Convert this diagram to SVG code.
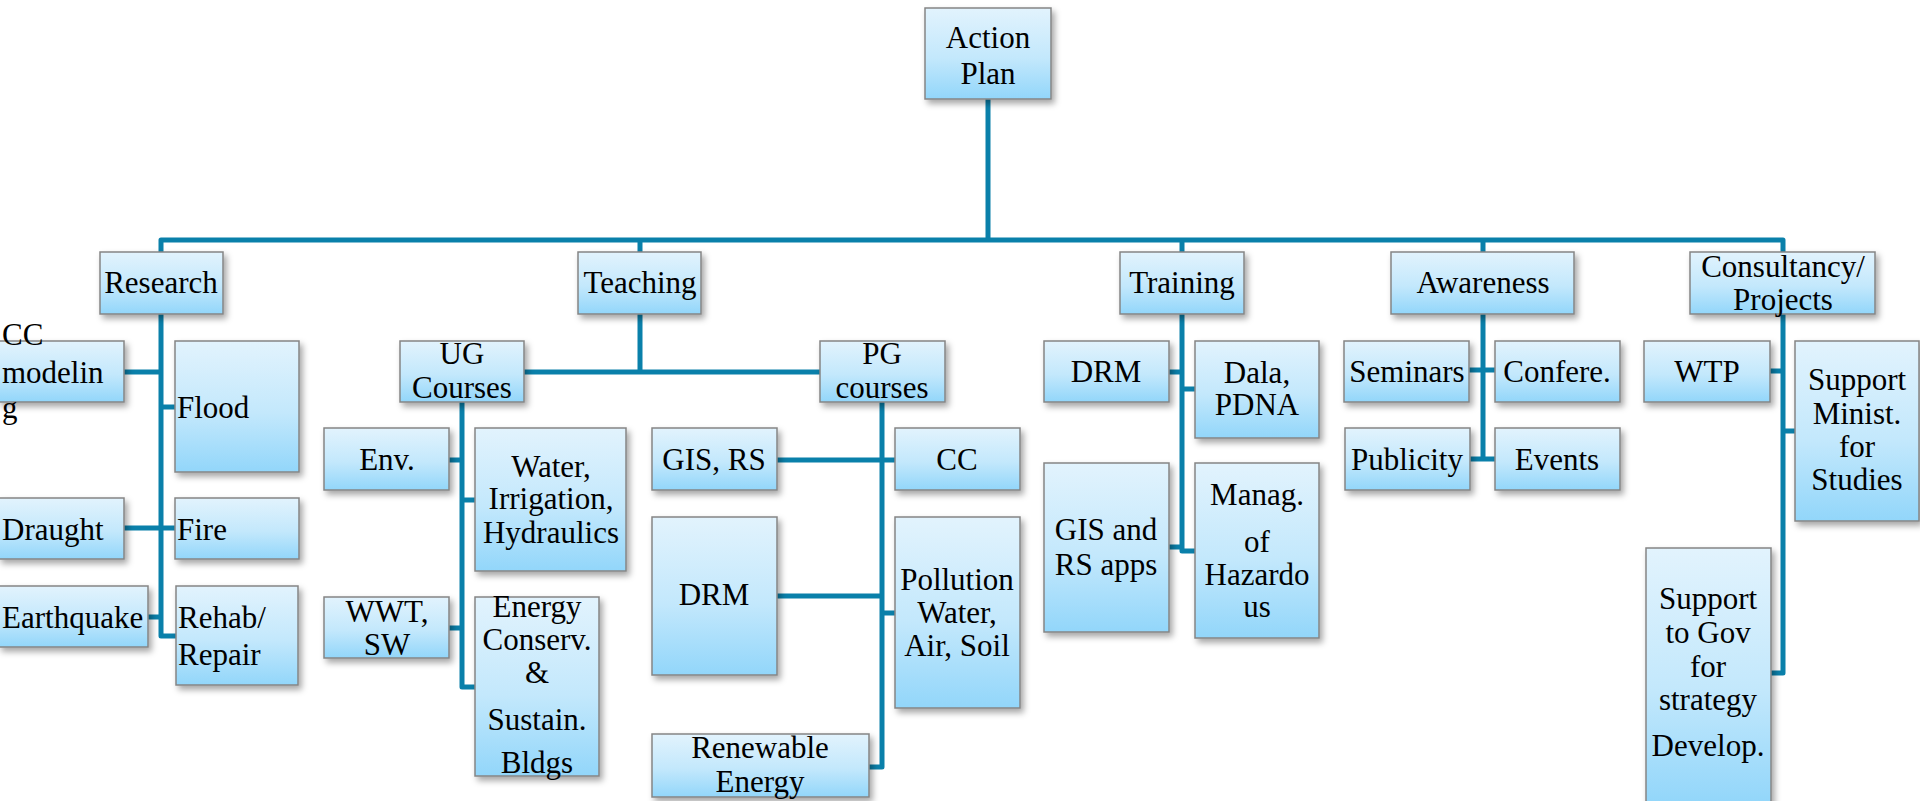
<svg xmlns="http://www.w3.org/2000/svg" width="1920" height="801" viewBox="0 0 1920 801">
<defs>
<linearGradient id="bf" x1="0" y1="0" x2="0" y2="1">
<stop offset="0" stop-color="#E2F3FD"/>
<stop offset="0.55" stop-color="#C3E8FC"/>
<stop offset="1" stop-color="#92D6FA"/>
</linearGradient>
<filter id="sh" x="-20%" y="-20%" width="140%" height="140%">
<feDropShadow dx="3" dy="4" stdDeviation="3" flood-color="#000" flood-opacity="0.35"/>
</filter>
<style>
.b{fill:url(#bf);stroke:#858585;stroke-width:1.5;filter:url(#sh)}
.t{font-family:"Liberation Serif","Times New Roman",serif;font-size:31px;fill:#000;text-anchor:middle}
.l{font-family:"Liberation Serif","Times New Roman",serif;font-size:31px;fill:#000;text-anchor:start}
.c{fill:none;stroke:#0A80AA;stroke-width:5;stroke-linejoin:round;stroke-linecap:butt}
</style>
</defs>
<rect width="1920" height="801" fill="#fff"/>
<g id="connectors">
<path class="c" d="M988,99 V240"/>
<path class="c" d="M161,252 V240 H1783 V252"/>
<path class="c" d="M640,240 V252 M1182,240 V252 M1483,240 V252"/>
<path class="c" d="M161,314 V636 H176 M124,372 H161 M161,407 H175 M124,528 H175 M148,617 H161"/>
<path class="c" d="M640,314 V372 M524,372 H820"/>
<path class="c" d="M462,402 V687 H475 M449,460 H462 M462,500 H475 M449,628 H462"/>
<path class="c" d="M882,402 V767 H869 M777,460 H895 M777,596 H882 M882,613 H895"/>
<path class="c" d="M1182,314 V551 H1195 M1169,372 H1182 M1182,389 H1195 M1169,547 H1182"/>
<path class="c" d="M1483,314 V459 M1469,370 H1495 M1470,459 H1495"/>
<path class="c" d="M1783,314 V673 H1771 M1770,371 H1783 M1783,431 H1795"/>
</g>
<g id="action"><rect class="b" x="925" y="8" width="126" height="91"/><text class="t" x="988" y="48">Action</text><text class="t" x="988" y="84">Plan</text></g>
<g id="research"><rect class="b" x="100" y="252" width="123" height="62"/><text class="t" x="161" y="293">Research</text></g>
<g id="teaching"><rect class="b" x="578" y="252" width="123" height="62"/><text class="t" x="640" y="293">Teaching</text></g>
<g id="training"><rect class="b" x="1120" y="252" width="124" height="62"/><text class="t" x="1182" y="293">Training</text></g>
<g id="awareness"><rect class="b" x="1391" y="252" width="183" height="62"/><text class="t" x="1483" y="293">Awareness</text></g>
<g id="consultancy"><rect class="b" x="1690" y="252" width="185" height="62"/><text class="t" x="1783" y="277">Consultancy/</text><text class="t" x="1783" y="310">Projects</text></g>
<g id="ccmodeling"><rect class="b" x="-1" y="341" width="125" height="61"/><text class="l" x="2" y="345">CC</text><text class="l" x="2" y="383">modelin</text><text class="l" x="2" y="418">g</text></g>
<g id="flood"><rect class="b" x="175" y="341" width="124" height="131"/><text class="l" x="177" y="418">Flood</text></g>
<g id="draught"><rect class="b" x="-1" y="498" width="125" height="61"/><text class="l" x="2" y="540">Draught</text></g>
<g id="fire"><rect class="b" x="175" y="498" width="124" height="61"/><text class="l" x="177" y="540">Fire</text></g>
<g id="earthquake"><rect class="b" x="-1" y="586" width="149" height="61"/><text class="l" x="2" y="628">Earthquake</text></g>
<g id="rehab"><rect class="b" x="176" y="586" width="122" height="99"/><text class="l" x="178" y="628">Rehab/</text><text class="l" x="178" y="665">Repair</text></g>
<g id="ug"><rect class="b" x="400" y="341" width="124" height="61"/><text class="t" x="462" y="364">UG</text><text class="t" x="462" y="398">Courses</text></g>
<g id="pg"><rect class="b" x="820" y="341" width="125" height="61"/><text class="t" x="882" y="364">PG</text><text class="t" x="882" y="398">courses</text></g>
<g id="env"><rect class="b" x="324" y="428" width="125" height="62"/><text class="t" x="387" y="470">Env.</text></g>
<g id="water"><rect class="b" x="475" y="428" width="151" height="143"/><text class="t" x="551" y="477">Water,</text><text class="t" x="551" y="509">Irrigation,</text><text class="t" x="551" y="543">Hydraulics</text></g>
<g id="wwt"><rect class="b" x="324" y="597" width="125" height="61"/><text class="t" x="387" y="622">WWT,</text><text class="t" x="387" y="655">SW</text></g>
<g id="energy"><rect class="b" x="475" y="597" width="124" height="179"/><text class="t" x="537" y="617">Energy</text><text class="t" x="537" y="650">Conserv.</text><text class="t" x="537" y="683">&amp;</text><text class="t" x="537" y="730">Sustain.</text><text class="t" x="537" y="773">Bldgs</text></g>
<g id="gisrs"><rect class="b" x="652" y="428" width="125" height="62"/><text class="t" x="714" y="470">GIS, RS</text></g>
<g id="cc"><rect class="b" x="895" y="428" width="125" height="62"/><text class="t" x="957" y="470">CC</text></g>
<g id="drm"><rect class="b" x="652" y="517" width="125" height="158"/><text class="t" x="714" y="605">DRM</text></g>
<g id="pollution"><rect class="b" x="895" y="517" width="125" height="191"/><text class="t" x="957" y="590">Pollution</text><text class="t" x="957" y="623">Water,</text><text class="t" x="957" y="656">Air, Soil</text></g>
<g id="renewable"><rect class="b" x="652" y="734" width="217" height="63"/><text class="t" x="760" y="758">Renewable</text><text class="t" x="760" y="792">Energy</text></g>
<g id="drm2"><rect class="b" x="1044" y="341" width="125" height="61"/><text class="t" x="1106" y="382">DRM</text></g>
<g id="dala"><rect class="b" x="1195" y="341" width="124" height="97"/><text class="t" x="1257" y="383">Dala,</text><text class="t" x="1257" y="415">PDNA</text></g>
<g id="gisapps"><rect class="b" x="1044" y="463" width="125" height="169"/><text class="t" x="1106" y="540">GIS and</text><text class="t" x="1106" y="575">RS apps</text></g>
<g id="manag"><rect class="b" x="1195" y="463" width="124" height="175"/><text class="t" x="1257" y="505">Manag.</text><text class="t" x="1257" y="552">of</text><text class="t" x="1257" y="585">Hazardo</text><text class="t" x="1257" y="617">us</text></g>
<g id="seminars"><rect class="b" x="1344" y="341" width="125" height="61"/><text class="t" x="1407" y="382">Seminars</text></g>
<g id="confere"><rect class="b" x="1495" y="341" width="125" height="61"/><text class="t" x="1557" y="382">Confere.</text></g>
<g id="publicity"><rect class="b" x="1345" y="428" width="125" height="62"/><text class="t" x="1407" y="470">Publicity</text></g>
<g id="events"><rect class="b" x="1495" y="428" width="125" height="62"/><text class="t" x="1557" y="470">Events</text></g>
<g id="wtp"><rect class="b" x="1644" y="341" width="126" height="61"/><text class="t" x="1707" y="382">WTP</text></g>
<g id="supportmin"><rect class="b" x="1795" y="341" width="124" height="180"/><text class="t" x="1857" y="390">Support</text><text class="t" x="1857" y="424">Minist.</text><text class="t" x="1857" y="457">for</text><text class="t" x="1857" y="490">Studies</text></g>
<g id="supportgov"><rect class="b" x="1646" y="548" width="125" height="256"/><text class="t" x="1708" y="609">Support</text><text class="t" x="1708" y="643">to Gov</text><text class="t" x="1708" y="677">for</text><text class="t" x="1708" y="710">strategy</text><text class="t" x="1708" y="756">Develop.</text></g>
</svg>
